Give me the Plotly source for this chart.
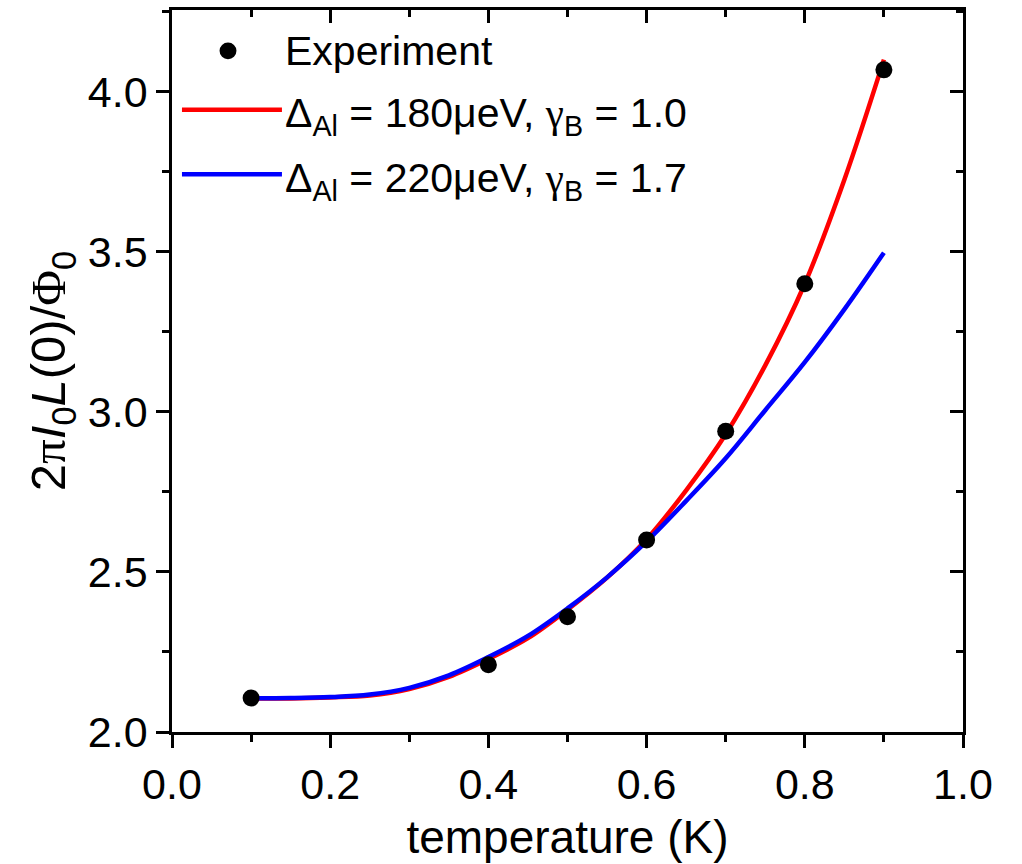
import plotly.graph_objects as go

# ---- data ----
exp_T = [0.1, 0.4, 0.5, 0.6, 0.7, 0.8, 0.9]
exp_val = [2.106, 2.210, 2.360, 2.600, 2.939, 3.400, 4.068]

fit_T = [0.10, 0.15, 0.20, 0.25, 0.30, 0.35, 0.40, 0.45, 0.50, 0.55,
         0.60, 0.65, 0.70, 0.75, 0.80, 0.85, 0.90]
fit_red = [2.105, 2.105, 2.108, 2.114, 2.134, 2.172, 2.228, 2.293, 2.382, 2.482,
           2.602, 2.755, 2.930, 3.145, 3.400, 3.725, 4.100]
fit_blue = [2.105, 2.106, 2.109, 2.117, 2.138, 2.177, 2.234, 2.300, 2.386, 2.483,
            2.595, 2.722, 2.855, 3.005, 3.155, 3.320, 3.497]

x_ticks = [0.0, 0.2, 0.4, 0.6, 0.8, 1.0]
x_ticklabels = ["0.0", "0.2", "0.4", "0.6", "0.8", "1.0"]
y_ticks = [2.0, 2.5, 3.0, 3.5, 4.0]
y_ticklabels = ["2.0", "2.5", "3.0", "3.5", "4.0"]

legend_exp = "Experiment"
legend_red = "Δ<sub>Al</sub> = 180μeV, <span style='font-family:Liberation Serif'>γ</span><sub>B</sub> = 1.0"
legend_blue = "Δ<sub>Al</sub> = 220μeV, <span style='font-family:Liberation Serif'>γ</span><sub>B</sub> = 1.7"
x_title = "temperature (K)"
y_title = ("2<span style='font-family:Liberation Serif'>π</span><i>I</i><sub>0</sub><i>L</i>(0)/"
           "<span style='font-family:Liberation Serif'>Φ</span><sub>0</sub>")

FONT = "Liberation Sans, Arial, sans-serif"
XR = [0.0, 1.0]
YR = [2.0, 4.255]

fig = go.Figure()
fig.add_trace(go.Scatter(x=fit_T, y=fit_red, mode="lines", line=dict(color="#ff0000", width=4.5, shape="spline"),
                         showlegend=False, hoverinfo="skip"))
fig.add_trace(go.Scatter(x=fit_T, y=fit_blue, mode="lines", line=dict(color="#0000ff", width=4.5, shape="spline"),
                         showlegend=False, hoverinfo="skip"))
fig.add_trace(go.Scatter(x=exp_T, y=exp_val, mode="markers", marker=dict(color="black", size=17),
                         showlegend=False))
# invisible trace to attach mirror axes
fig.add_trace(go.Scatter(x=[None], y=[None], xaxis="x2", yaxis="y2", showlegend=False, hoverinfo="skip"))

axis_common = dict(showgrid=False, zeroline=False, color="black")
fig.update_layout(
    width=1022, height=864,
    margin=dict(l=172, r=59, t=7, b=132),
    paper_bgcolor="white", plot_bgcolor="white",
    font=dict(family=FONT, size=43, color="black"),
    xaxis=dict(range=XR, tickvals=x_ticks, ticktext=x_ticklabels, ticks="outside", ticklen=13, tickwidth=2.5,
               tickcolor="black", showline=True, linewidth=2.5, linecolor="black", mirror=True,
               minor=dict(dtick=0.1, tick0=0, ticks="outside", ticklen=7, tickwidth=2.5, tickcolor="black"),
               tickfont=dict(size=43), title=dict(text=x_title, font=dict(size=46), standoff=14),
               **axis_common),
    yaxis=dict(range=YR, tickvals=y_ticks, ticktext=y_ticklabels, ticks="outside", ticklen=13, tickwidth=2.5,
               tickcolor="black", showline=True, linewidth=2.5, linecolor="black", mirror=True,
               minor=dict(dtick=0.25, tick0=2.0, ticks="outside", ticklen=7, tickwidth=2.5, tickcolor="black"),
               tickfont=dict(size=43),
               title=dict(text=y_title, font=dict(size=49), standoff=7),
               **axis_common),
    xaxis2=dict(range=XR, overlaying="x", side="top", anchor="y", tickvals=x_ticks, ticks="inside", ticklen=13,
                tickwidth=2.5, tickcolor="black", showticklabels=False, showline=False,
                minor=dict(dtick=0.1, tick0=0, ticks="inside", ticklen=7, tickwidth=2.5, tickcolor="black"),
                **axis_common),
    yaxis2=dict(range=YR, overlaying="y", side="right", anchor="x", tickvals=y_ticks, ticks="inside", ticklen=13,
                tickwidth=2.5, tickcolor="black", showticklabels=False, showline=False,
                minor=dict(dtick=0.25, tick0=2.0, ticks="inside", ticklen=7, tickwidth=2.5, tickcolor="black"),
                **axis_common),
)

# manual legend (paper coordinates)
fig.add_shape(type="circle", xref="paper", yref="paper", x0=0.0708 - 0.0107, x1=0.0708 + 0.0107,
              y0=0.9434 - 0.0117, y1=0.9434 + 0.0117, fillcolor="black", line=dict(width=0))
fig.add_shape(type="line", xref="paper", yref="paper", x0=0.0126, x1=0.139, y0=0.862, y1=0.862,
              line=dict(color="#ff0000", width=4.5))
fig.add_shape(type="line", xref="paper", yref="paper", x0=0.0126, x1=0.139, y0=0.7724, y1=0.7724,
              line=dict(color="#0000ff", width=4.5))
for txt, yy in [(legend_exp, 0.9434), (legend_red, 0.853), (legend_blue, 0.763)]:
    fig.add_annotation(text=txt, xref="paper", yref="paper", x=0.1404, y=yy, xanchor="left", yanchor="middle",
                       showarrow=False, font=dict(size=41, family=FONT, color="black"))

fig.write_html("out.html")
